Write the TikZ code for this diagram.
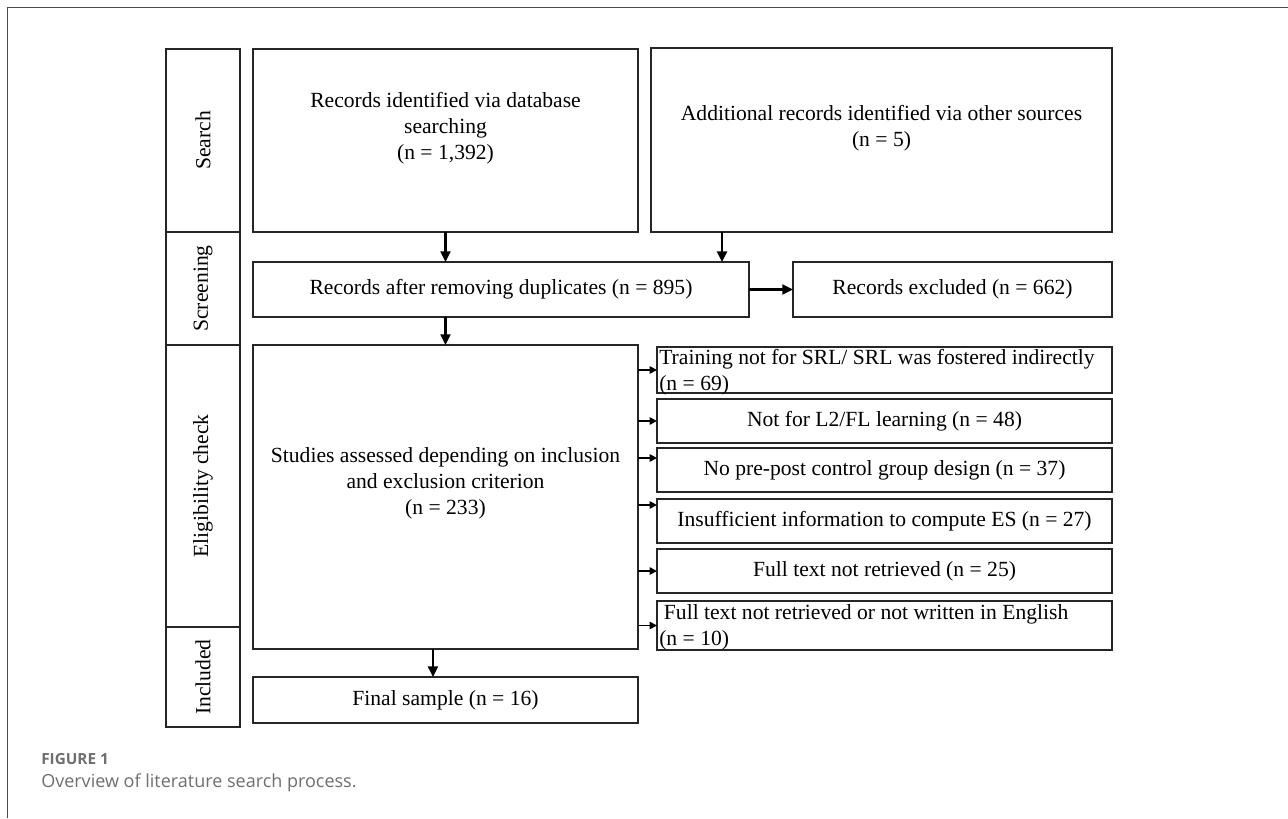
\documentclass[tikz,border=0pt]{standalone}
\usepackage{fontspec}
\setmainfont{Liberation Serif}
\newfontfamily\capfont{Open Sans}
\usepackage{tikz}
\usetikzlibrary{arrows.meta}
\definecolor{capgray}{HTML}{6E6E6E}
\definecolor{framegray}{HTML}{4A4A4A}

\begin{document}
\begin{tikzpicture}[x=0.75pt,y=0.75pt,yscale=-1,xscale=1,
	box/.style={draw=black!85,line width=1.1pt,inner sep=0pt,outer sep=0pt,align=center,font=\fontsize{16.2}{19.5}\selectfont},
	phase/.style={box,rotate=90},
	boxtext/.style={inner sep=0pt,align=center,font=\fontsize{16.2}{19.5}\selectfont},
	arr/.style={-{Triangle[length=8pt,width=7.5pt]},line width=1.6pt},
	sarr/.style={-{Triangle[length=5.5pt,width=5.5pt]},line width=1.2pt}]
	\useasboundingbox (0,0) rectangle (1288,818);
	
	%Straight Lines: outer frame
	\draw [draw=framegray,line width=0.75pt] (7,818) -- (7,7) -- (1288,7) ;
	
	%Shape: Rectangle (phases)
	\draw (203,140.5) node [phase,minimum width=137.25pt,minimum height=55.5pt] (phsearch) {Search};
	\draw (203,288.5) node [phase,minimum width=84.75pt,minimum height=55.5pt] (phscreen) {Screening};
	\draw (203,486) node [phase,minimum width=211.5pt,minimum height=55.5pt] (phelig) {Eligibility check};
	\draw (203,677) node [phase,minimum width=75pt,minimum height=55.5pt] (phincl) {Included};
	
	%Shape: Rectangle (search)
	\draw (445.5,140.5) node [box,minimum width=288.75pt,minimum height=137.25pt] (db) {};
	\draw (881.5,140) node [box,minimum width=345.75pt,minimum height=138pt] (other) {};
	% Text Node
	\draw (445.5,128) node [boxtext] (dbtxt) {Records identified via database\\searching\\(n = 1,392)};
	% Text Node
	\draw (881.5,128.5) node [boxtext] (othertxt) {Additional records identified via other sources\\(n = 5)};
	
	%Shape: Rectangle (screening)
	\draw (501,289.5) node [box,minimum width=372pt,minimum height=41.25pt] (dups) {Records after removing duplicates (n = 895)};
	\draw (952.5,289.5) node [box,minimum width=239.25pt,minimum height=41.25pt] (excl) {Records excluded (n = 662)};
	
	%Shape: Rectangle (eligibility)
	\draw (445.5,497) node [box,minimum width=288.75pt,minimum height=228pt] (studies) {};
	% Text Node
	\draw (445.5,483) node [boxtext] (studtxt) {Studies assessed depending on inclusion\\and exclusion criterion\\(n = 233)};
	
	\draw (884.5,370) node [box,minimum width=341.25pt,minimum height=34.5pt] (ex1) {};
	\draw (884.5,421) node [box,minimum width=341.25pt,minimum height=33pt] (ex2) {Not for L2/FL learning (n = 48)};
	\draw (884.5,470) node [box,minimum width=341.25pt,minimum height=33pt] (ex3) {No pre-post control group design (n = 37)};
	\draw (884.5,521) node [box,minimum width=341.25pt,minimum height=33pt] (ex4) {Insufficient information to compute ES (n = 27)};
	\draw (884.5,571) node [box,minimum width=341.25pt,minimum height=33pt] (ex5) {Full text not retrieved (n = 25)};
	\draw (884.5,625.5) node [box,minimum width=341.25pt,minimum height=36.75pt] (ex6) {};
	% Text Node
	\draw (659,372) node [boxtext,anchor=west,align=left] (ex1txt) {Training not for SRL/ SRL was fostered indirectly\\(n = 69)};
	% Text Node
	\draw (659,627) node [boxtext,anchor=west,align=left] (ex6txt) {\hspace{3.5pt}Full text not retrieved or not written in English\\(n = 10)};
	
	%Shape: Rectangle (included)
	\draw (445.5,700) node [box,minimum width=288.75pt,minimum height=34.5pt] (final) {Final sample (n = 16)};
	
	%Straight Lines: arrows
	\draw [arr] (db.south) -- (db.south |- dups.north) ;
	\draw [arr] ([xshift=-119.6pt]other.south) -- ([xshift=-119.6pt]other.south |- dups.north) ;
	\draw [arr] (dups.east) -- (excl.west) ;
	\draw [arr] (dups.south -| studies.north) -- (studies.north) ;
	\draw [arr] ([xshift=-9.4pt]studies.south) -- ([xshift=-9.4pt]final.north) ;
	\foreach \n/\dy in {ex1/0pt,ex2/0pt,ex3/-9pt,ex4/-12pt,ex5/0pt,ex6/0pt}{
		\path ([yshift=\dy]\n.west) coordinate (tip) ;
		\draw [sarr] (studies.east |- tip) -- (tip) ;
	}
	
	% Text Node
	\draw (41,759) node [anchor=west,inner sep=0pt,text=capgray,font=\capfont\bfseries\fontsize{11.5}{13}\selectfont] (figlab) {FIGURE 1};
	% Text Node
	\draw (41,783) node [anchor=west,inner sep=0pt,text=capgray,font=\capfont\fontsize{13.5}{16}\selectfont] (figcap) {Overview of literature search process.};
\end{tikzpicture}
\end{document}
